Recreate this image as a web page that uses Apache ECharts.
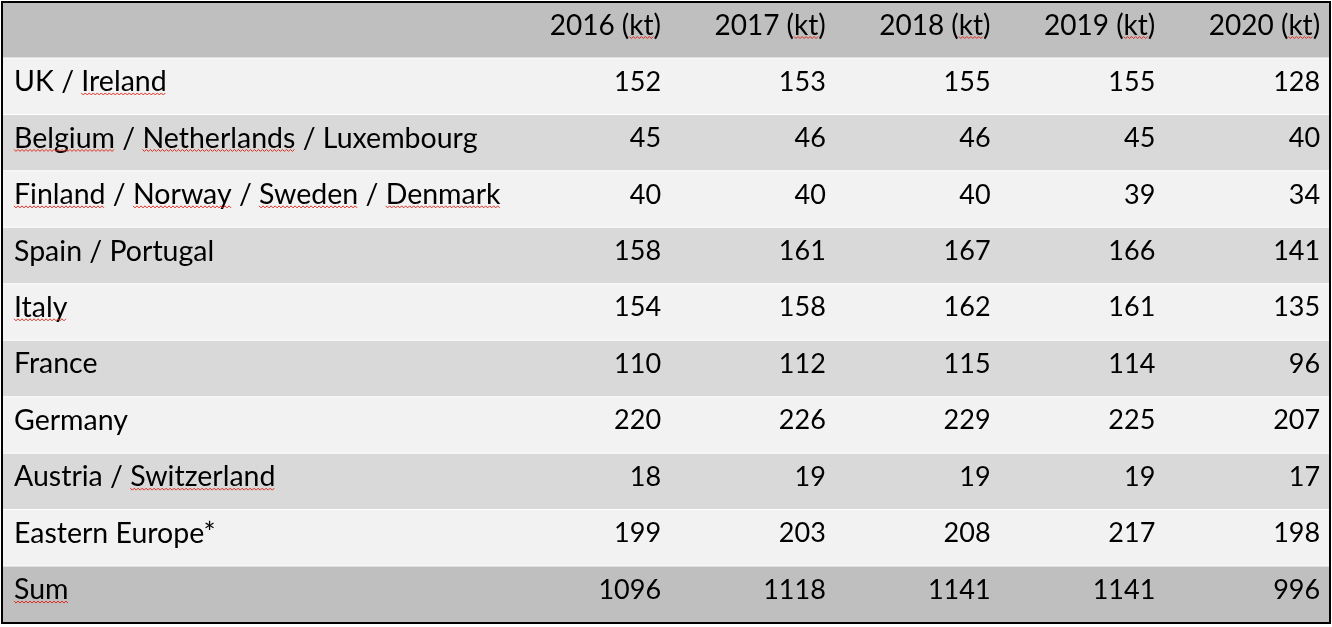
<!DOCTYPE html>
<html lang="en">
<head>
  <meta charset="UTF-8">
  <title>Volumes by region (kt)</title>
  <script src="https://cdn.jsdelivr.net/npm/echarts@6/dist/echarts.min.js"></script>
  <style>
    html, body { margin: 0; padding: 0; background: #fff; }
    #chart { width: 1332px; height: 627px; }
  </style>
</head>
<body>
  <div id="chart"></div>
  <script>
    // table data
    const years = ['2016 (kt)', '2017 (kt)', '2018 (kt)', '2019 (kt)', '2020 (kt)'];
    const regions = [
      'UK / Ireland',
      'Belgium / Netherlands / Luxembourg',
      'Finland / Norway / Sweden / Denmark',
      'Spain / Portugal',
      'Italy',
      'France',
      'Germany',
      'Austria / Switzerland',
      'Eastern Europe*',
      'Sum'
    ];
    const v2016 = [152, 45, 40, 158, 154, 110, 220, 18, 199, 1096];
    const v2017 = [153, 46, 40, 161, 158, 112, 226, 19, 203, 1118];
    const v2018 = [155, 46, 40, 167, 162, 115, 229, 19, 208, 1141];
    const v2019 = [155, 45, 39, 166, 161, 114, 225, 19, 217, 1141];
    const v2020 = [128, 40, 34, 141, 135, 96, 207, 17, 198, 996];
    // words with the red spell-check squiggle in the original
    const flagged = ['kt', 'Ireland', 'Belgium', 'Netherlands', 'Finland', 'Norway',
                     'Sweden', 'Denmark', 'Italy', 'Switzerland', 'Sum'];

    const columns = [v2016, v2017, v2018, v2019, v2020];
    const rowNames = [''].concat(regions);

    const FONT_FAMILY = 'Lato';
    const LABEL_FONT = '28.5px ' + FONT_FAMILY;
    const HEAD_FONT = '28px ' + FONT_FAMILY;
    const NUM_FONT = '27px ' + FONT_FAMILY;
    const TEXT_DY = 23.5;     // text middle below row top
    const SQUIGGLE_DY = 35.5; // squiggle below row top

    const measureCtx = document.createElement('canvas').getContext('2d');
    function textWidth(s, font) {
      measureCtx.font = font;
      return measureCtx.measureText(s).width;
    }

    function rowFill(row) {
      if (row === 0 || row === rowNames.length - 1) return '#bfbfbf';
      return row % 2 === 1 ? '#f2f2f2' : '#d9d9d9';
    }

    // zigzag under each flagged word of a text drawn from x0
    function squiggles(text, x0, y, font) {
      const out = [];
      flagged.forEach(word => {
        let idx = text.indexOf(word);
        while (idx !== -1) {
          const prev = text.charAt(idx - 1) || ' ';
          const next = text.charAt(idx + word.length) || ' ';
          if (!/[A-Za-z]/.test(prev) && !/[A-Za-z]/.test(next)) {
            const sx = x0 + textWidth(text.slice(0, idx), font);
            const w = textWidth(word, font);
            const pts = [];
            let k = 0;
            for (let x = sx; x <= sx + w; x += 2, k++) {
              pts.push([x, y + (k % 2 ? 1 : -1)]);
            }
            out.push({
              type: 'polyline',
              shape: { points: pts },
              style: { stroke: '#e02a1e', lineWidth: 1, fill: null }
            });
          }
          idx = text.indexOf(word, idx + word.length);
        }
      });
      return out;
    }

    function renderRow(params, api) {
      const row = api.value(1);
      const c = api.coord([0, row]);
      const h = api.size([0, 1])[1];
      const top = c[1] - h / 2;
      const cs = params.coordSys;
      const children = [{
        type: 'rect',
        shape: { x: cs.x, y: top, width: cs.width, height: h - 1 },
        style: { fill: rowFill(row) }
      }];

      // left label
      if (row > 0) {
        const lx = cs.x + 12;
        children.push({
          type: 'text',
          style: { text: rowNames[row], x: lx, y: top + TEXT_DY, font: LABEL_FONT,
                   fill: '#000', align: 'left', verticalAlign: 'middle' }
        });
        squiggles(rowNames[row], lx, top + SQUIGGLE_DY, LABEL_FONT).forEach(s => children.push(s));
      }

      // numeric columns (right edges at 4..8 in axis units)
      for (let i = 0; i < columns.length; i++) {
        const rx = api.coord([4 + i, row])[0];
        const isHead = row === 0;
        const txt = isHead ? years[i] : String(columns[i][row - 1]);
        const font = isHead ? HEAD_FONT : NUM_FONT;
        children.push({
          type: 'text',
          style: { text: txt, x: rx, y: top + TEXT_DY, font: font,
                   fill: '#000', align: 'right', verticalAlign: 'middle' }
        });
        if (isHead) {
          squiggles(txt, rx - textWidth(txt, font), top + SQUIGGLE_DY, font).forEach(s => children.push(s));
        }
      }
      return { type: 'group', children: children };
    }

    const chart = echarts.init(document.getElementById('chart'), null, { renderer: 'canvas' });
    chart.setOption({
      backgroundColor: '#ffffff',
      animation: false,
      grid: {
        left: 2, top: 2, right: 2, bottom: 4,
        show: true, borderColor: '#000', borderWidth: 2, backgroundColor: 'transparent',
        z: 10
      },
      xAxis: {
        type: 'value', min: 0, max: 8.06,
        show: false, splitLine: { show: false }
      },
      yAxis: {
        type: 'category', data: rowNames, inverse: true,
        show: false
      },
      series: [{
        type: 'custom',
        renderItem: renderRow,
        data: rowNames.map((_, i) => [0, i]),
        clip: false
      }]
    });
  </script>
</body>
</html>
